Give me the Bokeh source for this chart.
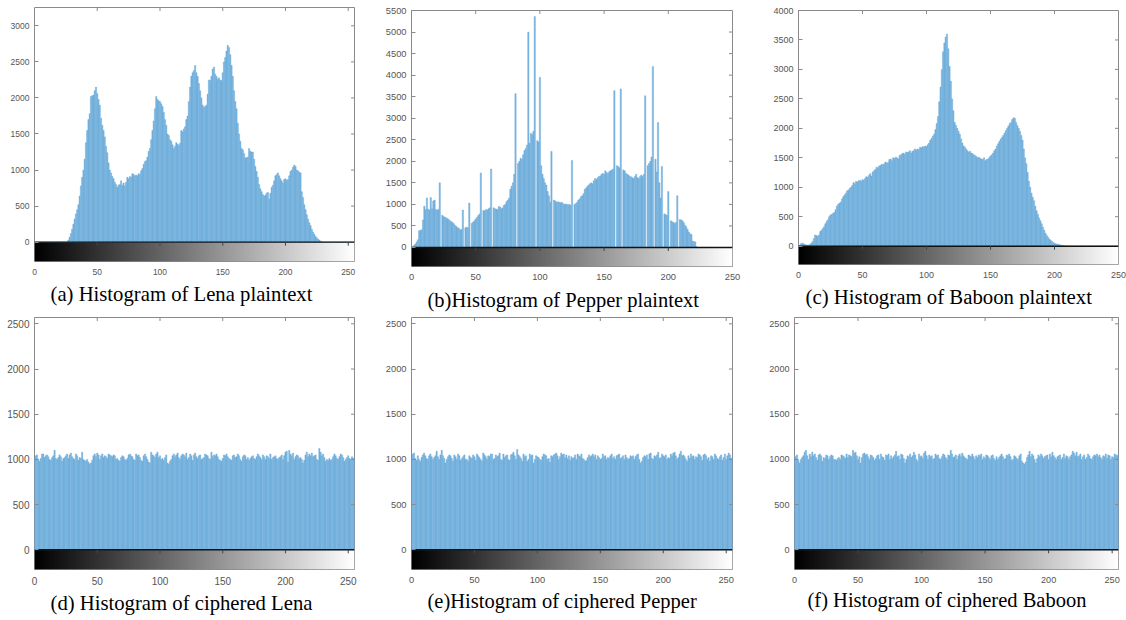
import numpy as np
from bokeh.plotting import figure
from bokeh.layouts import column, row
from bokeh.models import FixedTicker, Range1d
from bokeh.palettes import Greys256
from bokeh.embed import file_html
from bokeh.resources import INLINE

bins = list(range(256))
x_ticks = [0, 50, 100, 150, 200, 250]

lena_plain = [
    0, 0, 0, 0, 0, 0, 0, 0, 0, 0, 0, 0, 0, 0, 0, 0,
    0, 0, 0, 0, 0, 0, 0, 0, 0, 0, 0, 30, 70, 120, 180, 250,
    320, 390, 450, 520, 640, 780, 900, 1000, 1150, 1380, 1550, 1700, 1780, 2020, 2030, 2040,
    2100, 2150, 2060, 1980, 1900, 1720, 1620, 1550, 1460, 1330, 1240, 1100, 1000, 960, 910, 880,
    830, 800, 760, 790, 800, 850, 790, 820, 780, 830, 900, 880, 910, 900, 950, 940,
    920, 930, 920, 950, 940, 990, 1020, 1080, 1120, 1130, 1180, 1260, 1300, 1420, 1550, 1680,
    1850, 2020, 1980, 1960, 1950, 1920, 1880, 1800, 1700, 1620, 1500, 1480, 1420, 1400, 1350, 1300,
    1330, 1380, 1360, 1340, 1370, 1550, 1530, 1570, 1600, 1700, 1750, 1950, 2150, 2300, 2350, 2380,
    2450, 2350, 2300, 2200, 2100, 2000, 1900, 1870, 1880, 1900, 2050, 2250, 2240, 2300, 2400, 2430,
    2330, 2300, 2260, 2280, 2250, 2240, 2350, 2500, 2560, 2650, 2730, 2700, 2600, 2450, 2300, 2100,
    1950, 1850, 1650, 1500, 1400, 1300, 1280, 1230, 1170, 1170, 1180, 1300, 1260, 1250, 1250, 1150,
    1050, 980, 900, 800, 740, 700, 660, 640, 650, 680, 690, 600, 680, 760, 790, 850,
    920, 940, 960, 920, 880, 850, 820, 870, 880, 860, 870, 920, 980, 1000, 1040, 1070,
    1050, 1000, 990, 970, 960, 700, 620, 520, 450, 380, 320, 270, 230, 180, 140, 110,
    80, 60, 40, 30, 15, 5, 0, 0, 0, 0, 0, 0, 0, 0, 0, 0,
    0, 0, 0, 0, 0, 0, 0, 0, 0, 0, 0, 0, 0, 0, 0, 0,
]

pepper_plain = [
    0, 20, 50, 80, 130, 180, 390, 400, 410, 640, 960, 880, 1150, 890, 870, 1160,
    900, 1080, 1100, 880, 870, 880, 1500, 0, 750, 720, 700, 690, 670, 650, 620, 600,
    580, 550, 510, 490, 460, 440, 410, 420, 870, 0, 460, 470, 460, 1030, 0, 560,
    590, 620, 660, 700, 740, 780, 1730, 0, 860, 850, 880, 870, 900, 920, 1820, 0,
    920, 900, 890, 880, 950, 940, 900, 920, 980, 1000, 1060, 1100, 1150, 1350, 1420, 1500,
    1700, 3570, 0, 1950, 2000, 2070, 2050, 2150, 2250, 2300, 2380, 5000, 2420, 2650, 2620, 2700,
    5360, 0, 2480, 2450, 3950, 1900, 1700, 1600, 1500, 1450, 1300, 1200, 1050, 2230, 0, 1100,
    1080, 1050, 1060, 1050, 1040, 1050, 1020, 1000, 1010, 1000, 990, 1000, 980, 2020, 0, 1000,
    1020, 1050, 1100, 1130, 1180, 1200, 1250, 1350, 1380, 1420, 1450, 1480, 1500, 1480, 1550, 1600,
    1580, 1620, 1650, 1660, 1700, 1720, 1700, 1780, 1740, 1720, 1760, 1780, 1800, 1820, 3640, 0,
    1900, 1880, 1850, 3680, 0, 1800, 1780, 1720, 1700, 1680, 1650, 1640, 1620, 1600, 1650, 1700,
    1620, 1600, 1650, 1680, 1650, 1700, 3520, 0, 1900, 1950, 2000, 2100, 4200, 0, 2050, 1750,
    2900, 1500, 1150, 1880, 0, 780, 760, 750, 1300, 0, 620, 600, 580, 560, 580, 1200,
    0, 650, 640, 620, 580, 520, 480, 420, 360, 320, 300, 150, 140, 130, 20, 0,
    0, 0, 0, 0, 0, 0, 0, 0, 0, 0, 0, 0, 0, 0, 0, 0,
    0, 0, 0, 0, 0, 0, 0, 0, 0, 0, 0, 0, 0, 0, 0, 0,
]

baboon_plain = [
    10, 20, 40, 50, 40, 30, 20, 20, 20, 30, 50, 80, 130, 190, 180, 170,
    190, 250, 270, 300, 330, 380, 420, 450, 500, 530, 540, 560, 570, 620, 680, 710,
    730, 750, 800, 840, 870, 900, 940, 950, 980, 1000, 1030, 1080, 1060, 1100, 1090, 1110,
    1120, 1100, 1130, 1120, 1150, 1180, 1170, 1200, 1230, 1190, 1260, 1280, 1300, 1340, 1330, 1360,
    1370, 1390, 1380, 1400, 1430, 1410, 1420, 1470, 1480, 1450, 1500, 1490, 1510, 1500, 1480, 1540,
    1550, 1570, 1580, 1560, 1600, 1590, 1600, 1620, 1580, 1610, 1620, 1650, 1630, 1650, 1640, 1680,
    1670, 1690, 1680, 1700, 1690, 1720, 1750, 1800, 1830, 1870, 1900, 1980, 2080, 2200, 2450, 2700,
    3000, 3300, 3450, 3550, 3600, 3350, 3050, 2800, 2500, 2300, 2100, 2050, 2000, 1950, 1900, 1820,
    1750, 1700, 1680, 1650, 1620, 1600, 1610, 1580, 1570, 1550, 1540, 1520, 1500, 1510, 1490, 1480,
    1470, 1500, 1450, 1470, 1480, 1500, 1530, 1550, 1580, 1620, 1650, 1700, 1740, 1780, 1820, 1850,
    1880, 1920, 1960, 2000, 2040, 2080, 2100, 2150, 2180, 2170, 2100, 2050, 2000, 1950, 1880, 1800,
    1650, 1500, 1400, 1250, 1100, 1000, 900, 830, 770, 680, 600, 540, 480, 430, 380, 320,
    270, 220, 180, 150, 120, 100, 80, 60, 50, 40, 35, 30, 25, 20, 15, 10,
    8, 5, 3, 0, 0, 0, 0, 0, 0, 0, 0, 0, 0, 0, 0, 0,
    0, 0, 0, 0, 0, 0, 0, 0, 0, 0, 0, 0, 0, 0, 0, 0,
    0, 0, 0, 0, 0, 0, 0, 0, 0, 0, 0, 0, 0, 0, 0, 0,
]

lena_cipher = [
    1030, 1040, 1050, 1000, 980, 1010, 1060, 1060, 1020, 1040, 1050, 1030, 1000, 990, 1020, 1040,
    1100, 1010, 1000, 1020, 1050, 1030, 980, 1010, 1020, 1040, 1060, 1010, 1050, 1070, 1030, 1010,
    1000, 1060, 1040, 990, 1020, 1010, 1080, 1000, 990, 980, 1000, 970, 950, 960, 990, 1040,
    1060, 1030, 1070, 1050, 1000, 1040, 1060, 1020, 1040, 1030, 1010, 1060, 1050, 1040, 1030, 1050,
    1040, 1000, 1010, 990, 980, 1020, 1040, 1030, 1000, 990, 1010, 1050, 1060, 1040, 1030, 1000,
    990, 1060, 1040, 1050, 1020, 990, 980, 1040, 1060, 1030, 1000, 970, 960, 1080, 1050, 1040,
    1020, 1060, 1080, 1020, 1040, 1000, 1010, 990, 1020, 1050, 960, 950, 980, 1000, 1040, 1060,
    1030, 1050, 1070, 1020, 1000, 1040, 1060, 1050, 1030, 1070, 1000, 1020, 1060, 1040, 990, 1050,
    1070, 1030, 1010, 1040, 1050, 1000, 1010, 1020, 1060, 1050, 1040, 1010, 1000, 1080, 1030, 1050,
    1040, 1060, 1030, 1000, 990, 980, 1010, 1050, 1040, 1060, 1030, 1010, 1000, 990, 1040, 1050,
    1020, 1030, 1060, 1040, 1000, 980, 1030, 1050, 1040, 1000, 1020, 990, 1010, 1030, 1040, 1010,
    1000, 1030, 1060, 1040, 1020, 1000, 1050, 1030, 1000, 1040, 1030, 1010, 1060, 1000, 1020, 1030,
    1040, 1010, 1000, 1020, 1030, 1050, 1000, 1040, 1080, 1090, 970, 1100, 1060, 1040, 1070, 1000,
    1030, 1050, 1040, 1010, 1020, 1000, 960, 990, 1050, 1080, 1030, 1060, 1040, 1070, 1030, 1040,
    1050, 1000, 990, 1120, 1080, 1040, 1060, 1020, 980, 1000, 990, 1010, 990, 1000, 1030, 1060,
    1040, 1010, 1000, 1030, 1060, 1050, 1020, 980, 1000, 1020, 1040, 1010, 1000, 1030, 1010, 1020,
]

pepper_cipher = [
    990, 1060, 1070, 1010, 990, 1040, 1000, 980, 1020, 1050, 1070, 1040, 1010, 1000, 1040, 1060,
    1030, 1000, 1020, 1040, 1090, 1030, 1000, 1050, 1100, 1040, 1010, 960, 1000, 1030, 1050, 1040,
    1010, 980, 1050, 1030, 1000, 1060, 1040, 990, 1010, 1030, 1050, 1000, 1000, 980, 1040, 1020,
    1010, 1050, 1030, 990, 1060, 1040, 1020, 1000, 980, 1070, 1050, 1030, 1000, 1040, 1030, 1060,
    1060, 1000, 1010, 1050, 1030, 1040, 1070, 1000, 990, 1060, 1020, 1040, 1050, 1000, 990, 1050,
    1060, 1080, 1040, 1000, 1110, 1050, 1030, 1010, 980, 1060, 1030, 1040, 980, 1000, 1060, 1040,
    1050, 960, 1000, 1040, 1030, 1020, 1000, 990, 1030, 1060, 1050, 1040, 1000, 1010, 970, 1040,
    1030, 1050, 1060, 1070, 1040, 1000, 1030, 1070, 1050, 1060, 1020, 1050, 1010, 1040, 990, 1030,
    1010, 1020, 1050, 1000, 1060, 1040, 1030, 1060, 1010, 1000, 980, 990, 1020, 1050, 1030, 1040,
    1060, 1030, 1050, 1000, 1040, 1020, 1000, 1010, 1060, 1030, 1040, 1000, 1020, 1010, 1040, 1060,
    1010, 1030, 1000, 1040, 1050, 1060, 1010, 1020, 1040, 1000, 1050, 1020, 1000, 1010, 1040, 1030,
    1040, 1000, 1030, 1050, 1060, 1000, 960, 980, 1020, 1040, 1030, 1050, 1000, 1060, 1070, 1010,
    1000, 1040, 1030, 1050, 1080, 1010, 1020, 1060, 1040, 1030, 1050, 1000, 1020, 1010, 1060, 1040,
    1070, 1080, 1040, 1000, 1020, 1060, 1090, 1040, 1050, 1030, 1000, 980, 1040, 1010, 1060, 1030,
    1040, 1000, 1030, 1020, 1060, 1050, 1030, 990, 1050, 1060, 1040, 1000, 1020, 980, 1040, 1030,
    1000, 1060, 1040, 1010, 1000, 1030, 1050, 990, 1020, 1060, 1000, 1040, 1070, 1050, 1010, 1020,
]

baboon_cipher = [
    1040, 1030, 1050, 990, 960, 1000, 1020, 1040, 1080, 1100, 1040, 1000, 1060, 1030, 1080, 1040,
    1060, 1020, 990, 1050, 1060, 1040, 980, 1020, 1010, 1050, 1040, 1000, 1030, 1050, 1040, 1000,
    1000, 990, 1010, 1020, 1000, 1050, 1040, 1030, 1010, 1060, 1020, 1050, 1040, 1030, 1100, 1070,
    1080, 1040, 1000, 1030, 960, 1020, 1060, 1070, 1050, 1060, 1030, 1000, 1050, 1040, 1020, 990,
    1010, 1040, 1050, 1000, 1060, 1030, 1020, 990, 1050, 1040, 1060, 1000, 1040, 1010, 1030, 1050,
    1090, 1030, 1040, 1000, 1060, 1050, 1010, 960, 1000, 1040, 1030, 1060, 1020, 1040, 1080, 1050,
    1000, 980, 1060, 1030, 1040, 1010, 1070, 1090, 1040, 1000, 1050, 1030, 1040, 1000, 1010, 1060,
    1040, 1050, 1010, 1000, 1030, 1060, 1050, 1020, 1000, 1050, 1040, 1100, 1060, 1020, 1030, 1050,
    1000, 1040, 1060, 1030, 1070, 1040, 1020, 1010, 1000, 1050, 1040, 1030, 1060, 1030, 1000, 1040,
    1020, 1050, 1040, 1060, 1000, 1030, 1010, 1050, 1040, 1020, 1000, 1040, 1050, 1010, 990, 1030,
    1000, 1020, 1040, 1060, 1030, 1000, 1010, 1050, 1040, 1060, 1030, 990, 1000, 1040, 1030, 1010,
    1000, 1040, 1060, 980, 960, 950, 970, 1020, 1050, 1090, 1030, 1060, 1040, 1000, 960, 1010,
    1050, 1030, 1060, 1040, 1010, 1030, 1040, 1050, 1000, 1060, 1030, 1080, 1040, 1020, 1000, 1030,
    1040, 1050, 1000, 1020, 1060, 1010, 1040, 1030, 1000, 1030, 1050, 1090, 1070, 1040, 1080, 1030,
    1040, 1060, 1000, 1030, 1050, 1000, 1020, 1060, 1040, 1010, 1000, 1030, 1050, 1040, 1060, 1030,
    1050, 1020, 1000, 1040, 1030, 1060, 1010, 1050, 1040, 1000, 1030, 1020, 1060, 1050, 1040, 1060,
]

y_ticks_lena = [0, 500, 1000, 1500, 2000, 2500, 3000]
y_ticks_pepper = [0, 500, 1000, 1500, 2000, 2500, 3000, 3500, 4000, 4500, 5000, 5500]
y_ticks_baboon = [0, 500, 1000, 1500, 2000, 2500, 3000, 3500, 4000]
y_ticks_cipher = [0, 500, 1000, 1500, 2000, 2500]

captions = [
    "(a) Histogram of Lena plaintext",
    "(b)Histogram of Pepper plaintext",
    "(c) Histogram of Baboon plaintext",
    "(d) Histogram of ciphered Lena",
    "(e)Histogram of ciphered Pepper",
    "(f) Histogram of ciphered Baboon",
]

BAR_FILL = "#7bb7e0"
BAR_LINE = "#62a4d6"
FRAME = "#8a8a8a"
TICK_TXT = "#555555"


def panel(values, caption, yticks, width, height, mbl, mbr, mbt, mbb,
          x_end, y_end, y_start, tick_fs, cap_fs, cap_offset, cap_standoff):
    fw = width - mbl - mbr
    fh = height - mbt - mbb
    p = figure(width=width, height=height, output_backend="svg",
               toolbar_location=None, title=caption, title_location="below",
               x_range=Range1d(0, x_end), y_range=Range1d(y_start, y_end),
               min_border_left=mbl, min_border_right=mbr,
               min_border_top=mbt, min_border_bottom=mbb)
    p.background_fill_color = "white"
    p.border_fill_color = "white"
    p.outline_line_color = FRAME
    p.outline_line_width = 1
    p.grid.visible = False

    # colour bar strip below zero
    grad = np.arange(256, dtype=float).reshape(1, 256)
    p.image(image=[grad], x=0, y=y_start, dw=x_end, dh=-y_start,
            palette=Greys256, level="image")

    # histogram bars
    p.vbar(x=bins, top=values, bottom=0, width=1.0,
           fill_color=BAR_FILL, line_color=BAR_LINE, line_width=0.4)

    # zero line / colour-bar frame
    p.line(x=[0, x_end], y=[0, 0], line_color="#111111", line_width=1.4)

    # inward ticks: top, right, and colour-bar top
    px_x = fw / x_end
    px_y = fh / (y_end - y_start)
    tk = 3.5
    xt = [t for t in x_ticks if 0 < t < x_end]
    p.segment(x0=xt, x1=xt, y0=[y_end] * len(xt), y1=[y_end - tk / px_y] * len(xt),
              line_color=FRAME, line_width=1)
    p.segment(x0=xt, x1=xt, y0=[0] * len(xt), y1=[-tk / px_y] * len(xt),
              line_color="#444444", line_width=1)
    yt = [t for t in yticks if 0 < t < y_end]
    p.segment(x0=[x_end] * len(yt), x1=[x_end - tk / px_x] * len(yt), y0=yt, y1=yt,
              line_color=FRAME, line_width=1)

    for ax in (p.xaxis, p.yaxis):
        ax.axis_line_color = None
        ax.major_tick_out = 0
        ax.minor_tick_line_color = None
        ax.major_label_text_font = "Liberation Sans"
        ax.major_label_text_font_size = tick_fs
        ax.major_label_text_color = TICK_TXT
    p.xaxis.ticker = FixedTicker(ticks=x_ticks)
    p.xaxis.major_tick_in = 0
    p.xaxis.major_label_standoff = 7
    p.yaxis.ticker = FixedTicker(ticks=yticks)
    p.yaxis.major_tick_in = 4
    p.yaxis.major_tick_line_color = FRAME
    p.yaxis.major_label_standoff = 5

    p.title.text_font = "Liberation Serif"
    p.title.text_font_size = cap_fs
    p.title.text_font_style = "normal"
    p.title.text_color = "black"
    p.title.align = "left"
    p.title.offset = cap_offset
    p.title.standoff = cap_standoff
    return p


# top row: 316 px tall; bottom row: 304 px tall (page has no margin)
pa = panel(lena_plain, captions[0], y_ticks_lena, 380, 316, 34, 26, 7, 55,
           255, 3254, -268, "8.5px", "20.7px", 16, 6)
pb = panel(pepper_plain, captions[1], y_ticks_pepper, 380, 316, 31, 28, 10, 50,
           250, 5500, -441, "9.3px", "20.5px", 16, 8)
pc = panel(baboon_plain, captions[2], y_ticks_baboon, 366, 316, 38, 8, 10, 52,
           250, 4000, -311, "9px", "20.8px", 7, 5)
pd = panel(lena_cipher, captions[3], y_ticks_cipher, 380, 304, 34, 26, 1, 51,
           255, 2570, -218, "10px", "20.7px", 16, 4)
pe = panel(pepper_cipher, captions[4], y_ticks_cipher, 380, 304, 31, 28, 1, 51,
           255, 2570, -218, "9.3px", "20.5px", 16, 5)
pf = panel(baboon_cipher, captions[5], y_ticks_cipher, 366, 304, 34, 8, 1, 51,
           255, 2570, -218, "9.1px", "20.5px", 13, 3)

# each figure in its own column so that the row does not align the frames
layout = column(
    row(column(pa), column(pb), column(pc), spacing=0),
    row(column(pd), column(pe), column(pf), spacing=0),
    spacing=0,
)

with open("out.html", "w") as f:
    f.write(file_html(layout, INLINE))
